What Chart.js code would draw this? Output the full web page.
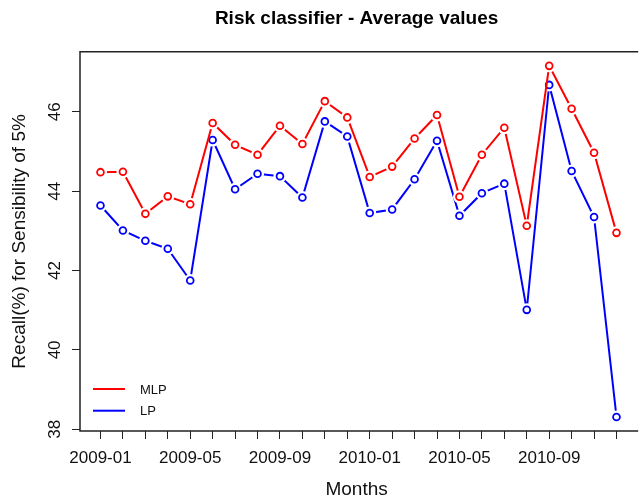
<!DOCTYPE html>
<html>
<head>
<meta charset="utf-8">
<script src="https://cdn.jsdelivr.net/npm/chart.js@4.4.1/dist/chart.umd.min.js"></script>
<style>
    body { margin: 0; background: #fff; overflow: hidden; }
    canvas { display: block; }
</style>
</head>
<body>
<canvas id="risk_chart" width="639" height="501"></canvas>
<script>
// months on the x axis
var months = ['2009-01', '2009-02', '2009-03', '2009-04', '2009-05', '2009-06',
    '2009-07', '2009-08', '2009-09', '2009-10', '2009-11', '2009-12',
    '2010-01', '2010-02', '2010-03', '2010-04', '2010-05', '2010-06',
    '2010-07', '2010-08', '2010-09', '2010-10', '2010-11', '2010-12'];

// labelled months (every 4th)
var monthLabels = ['2009-01', '2009-05', '2009-09', '2010-01', '2010-05', '2010-09'];

// recall values
var mlpValues = [44.48, 44.49, 43.43, 43.87, 43.67, 45.72, 45.17, 44.92, 45.65, 45.19, 46.27, 45.86,
    44.36, 44.62, 45.33, 45.92, 43.86, 44.92, 45.60, 43.13, 47.16, 46.08, 44.97, 42.95];
var lpValues = [43.64, 43.01, 42.75, 42.55, 41.75, 45.29, 44.05, 44.44, 44.38, 43.84, 45.76, 45.38,
    43.45, 43.54, 44.30, 45.27, 43.38, 43.95, 44.19, 41.01, 46.68, 44.51, 43.35, 38.31];

var yTicks = [38, 40, 42, 44, 46];

var FONT = "'Liberation Sans', Arial, Helvetica, sans-serif";

function toPoints(values) {
    return values.map(function (v, i) { return { x: i, y: v }; });
}

// R style "b" lines: small gap around each open circle
var gapPlugin = {
    id: 'gaps',
    afterDatasetDraw: function (chart, args) {
        var ctx = chart.ctx;
        ctx.save();
        args.meta.data.forEach(function (pt) {
            ctx.fillStyle = '#fff';
            ctx.beginPath();
            ctx.arc(pt.x, pt.y, 6.5, 0, Math.PI * 2);
            ctx.fill();
            pt.draw(ctx, chart.chartArea);
        });
        ctx.restore();
    }
};

// plot box (right side runs off the page)
var boxPlugin = {
    id: 'box',
    afterDraw: function (chart) {
        var a = chart.chartArea, ctx = chart.ctx;
        ctx.save();
        ctx.strokeStyle = '#222';
        ctx.lineWidth = 1.5;
        ctx.beginPath();
        ctx.moveTo(a.right + 5, a.top);
        ctx.lineTo(a.left, a.top);
        ctx.lineTo(a.left, a.bottom);
        ctx.lineTo(a.right + 5, a.bottom);
        ctx.stroke();
        ctx.restore();
    }
};

// legend in the bottom-left corner, no frame
var legendPlugin = {
    id: 'cornerLegend',
    afterDraw: function (chart) {
        var a = chart.chartArea, ctx = chart.ctx;
        ctx.save();
        ctx.font = '13px ' + FONT;
        ctx.textBaseline = 'middle';
        chart.data.datasets.forEach(function (ds, i) {
            var y = a.bottom - 42 + i * 21.7;
            ctx.strokeStyle = ds.borderColor;
            ctx.lineWidth = 2;
            ctx.beginPath();
            ctx.moveTo(a.left + 13, y);
            ctx.lineTo(a.left + 45, y);
            ctx.stroke();
            ctx.fillStyle = '#111';
            ctx.fillText(ds.label, a.left + 60, y + 1);
        });
        ctx.restore();
    }
};

var ctx1 = document.getElementById('risk_chart').getContext('2d');
var chart1 = new Chart(ctx1, {
    type: 'line',
    data: {
        datasets: [{
            label: 'MLP',
            data: toPoints(mlpValues),
            borderColor: '#ff0000',
            backgroundColor: '#fff',
            borderWidth: 2,
            pointRadius: 3.4,
            pointBorderWidth: 1.8,
            pointBackgroundColor: '#fff',
            pointBorderColor: '#ff0000',
            tension: 0
        }, {
            label: 'LP',
            data: toPoints(lpValues),
            borderColor: '#0000ff',
            backgroundColor: '#fff',
            borderWidth: 2,
            pointRadius: 3.4,
            pointBorderWidth: 1.8,
            pointBackgroundColor: '#fff',
            pointBorderColor: '#0000ff',
            tension: 0
        }]
    },
    options: {
        responsive: false,
        animation: false,
        layout: { padding: 0 },
        plugins: {
            legend: { display: false },
            tooltip: { enabled: false },
            title: {
                display: true,
                text: 'Risk classifier - Average values',
                fullSize: false,
                color: '#000',
                font: { family: FONT, size: 19, weight: 'bold' },
                padding: { top: 7, bottom: 22 }
            }
        },
        scales: {
            x: {
                type: 'linear',
                min: -0.913,
                max: 23.745,
                afterBuildTicks: function (scale) {
                    scale.ticks = months.map(function (m, i) { return { value: i }; });
                },
                afterFit: function (scale) { scale.height = 70; },
                ticks: {
                    autoSkip: false,
                    maxRotation: 0,
                    padding: 9,
                    color: '#111',
                    font: { family: FONT, size: 17 },
                    callback: function (value) {
                        var m = months[value];
                        return monthLabels.indexOf(m) >= 0 ? m : '';
                    }
                },
                grid: { drawOnChartArea: false, drawTicks: true, tickLength: 8, color: '#222', lineWidth: 1 },
                border: { display: false },
                title: {
                    display: true,
                    text: 'Months',
                    color: '#111',
                    font: { family: FONT, size: 19 },
                    padding: { top: 0, bottom: 0 }
                }
            },
            y: {
                min: 37.956,
                max: 47.514,
                afterBuildTicks: function (scale) {
                    scale.ticks = yTicks.map(function (v) { return { value: v }; });
                },
                afterFit: function (scale) { scale.width = 80; },
                ticks: {
                    minRotation: 90,
                    maxRotation: 90,
                    crossAlign: 'center',
                    padding: 7,
                    color: '#111',
                    font: { family: FONT, size: 17 }
                },
                grid: { drawOnChartArea: false, drawTicks: true, tickLength: 8, color: '#222', lineWidth: 1 },
                border: { display: false },
                title: {
                    display: true,
                    text: 'Recall(%) for Sensibility of 5%',
                    color: '#111',
                    font: { family: FONT, size: 19 },
                    padding: { top: 8, bottom: 0 }
                }
            }
        }
    },
    plugins: [gapPlugin, boxPlugin, legendPlugin]
});
</script>
</body>
</html>
